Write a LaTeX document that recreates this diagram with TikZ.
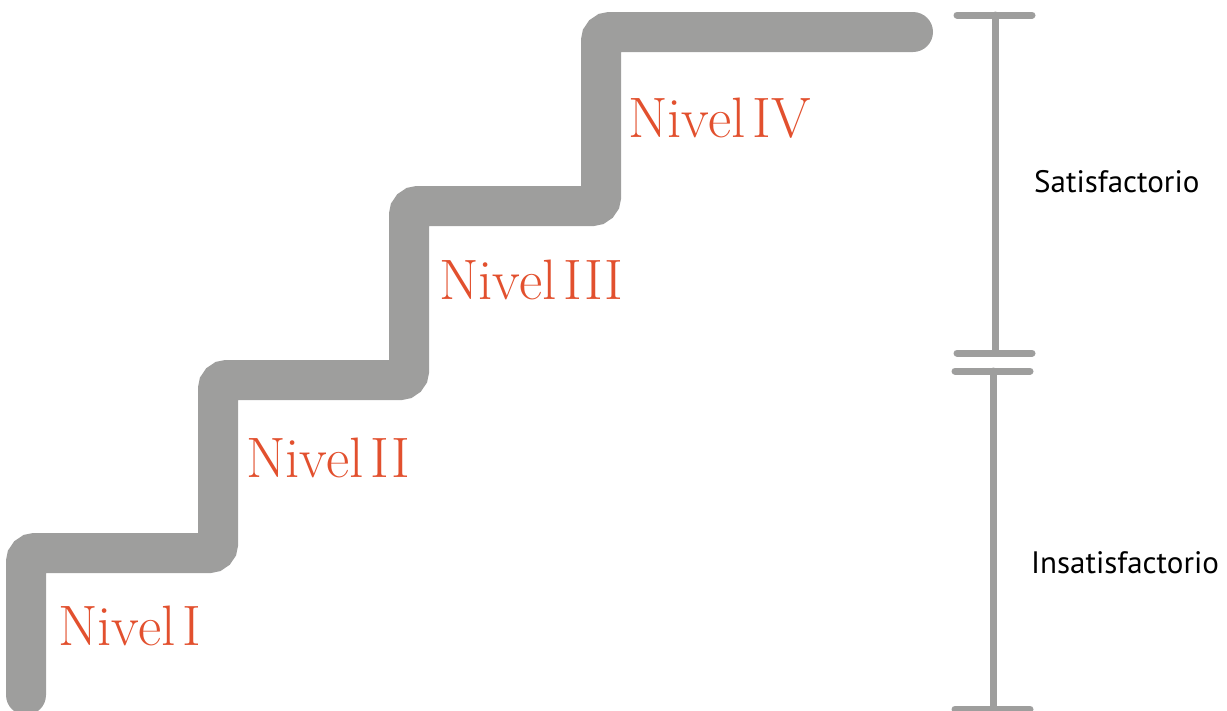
\documentclass[tikz,border=0pt]{standalone}
\usepackage{fontspec}
\usepackage{xcolor}
\usetikzlibrary{calc, positioning}
\newfontfamily\labelsans{PT Sans}
\definecolor{stairgray}{RGB}{158,158,157}
\definecolor{nivelorange}{RGB}{226,80,46}
\newcommand{\StairWidth}{40pt}

\begin{document}
\begin{tikzpicture}[
	x=1pt, y=-1pt,
	stair/.style={
		draw=stairgray,
		line width=\StairWidth,
		line cap=round,
		rounded corners=9pt
	},
	nivel/.style={
		text=nivelorange,
		font={\fontsize{57}{57}\selectfont\spaceskip=0.13em\relax},
		anchor=base west,
		inner sep=0
	},
	bar/.style={
		draw=stairgray,
		line width=7pt,
		line cap=round
	},
	range label/.style={
		font={\labelsans\fontsize{31}{31}\selectfont},
		anchor=base west,
		inner sep=0
	}
]
	\useasboundingbox (0,0) rectangle (1227,710);
	% the steps
	\coordinate (start) at (26,695);
	\coordinate (top end) at (913,32);
	\draw[stair] (start) |- (218,553) |- (409,380) |- (601,206) |- (top end);
	% level names
	\foreach \name/\x/\y [count=\i] in {Nivel I/58/645, Nivel II/246/477, Nivel III/439/299, Nivel IV/628/137} {
		\node[nivel] (nivel \i) at (\x,\y) {\name};
	};
	% scale on the right
	\coordinate (sat top) at (995,15);
	\coordinate (sat bottom) at (995,353);
	\coordinate (ins top) at (993,371);
	\coordinate (ins bottom) at (993,709);
	\draw[bar] (sat top) -- (sat bottom);
	\draw[bar] (ins top) -- (ins bottom);
	\foreach \c in {sat top, sat bottom}
		\draw[bar] ($(\c)+(-38,0)$) -- ($(\c)+(37,0)$);
	\foreach \c in {ins top, ins bottom}
		\draw[bar] ($(\c)+(-38,0)$) -- ($(\c)+(37,0)$);
	\node[range label] (satisfactorio) at (1034,192) {Satisfactorio};
	\node[range label] (insatisfactorio) at (1031,573) {Insatisfactorio};
\end{tikzpicture}
\end{document}
